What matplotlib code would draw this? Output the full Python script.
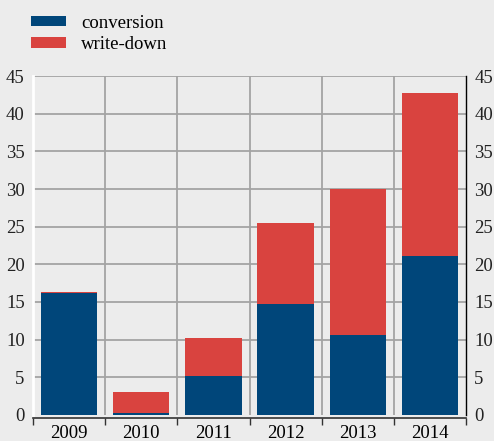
import numpy as np
import matplotlib
matplotlib.use("Agg")
import matplotlib.pyplot as plt

years = ["2009", "2010", "2011", "2012", "2013", "2014"]
conversion = [16.15, 0.25, 5.2, 14.7, 10.55, 21.1]
write_down = [0.15, 2.8, 4.95, 10.8, 19.5, 21.7]

blue = "#00467a"
red = "#d9433f"
bg = "#ececec"
grid_col = "#a3a3a3"

plt.rcParams["font.family"] = ["Liberation Serif", "DejaVu Serif"]
plt.rcParams["font.size"] = 13.5

fig = plt.figure(figsize=(4.94, 4.41), dpi=100, facecolor=bg)
ax = fig.add_axes([33 / 494, (441 - 414.7) / 441, (466 - 33) / 494, (414.7 - 76.3) / 441])
ax.set_facecolor(bg)

x = np.arange(len(years))
ax.bar(x, conversion, width=0.78, color=blue, label="conversion", zorder=3)
ax.bar(x, write_down, width=0.78, bottom=conversion, color=red, label="write-down", zorder=3)

ax.set_xlim(-0.5, len(years) - 0.5)
ax.set_ylim(0, 45)
ax.set_yticks(np.arange(0, 46, 5))

# grid
ax.set_xticks(x)
ax.set_xticklabels(years)
ax.set_xticks(np.arange(-0.5, len(years)), minor=True)
for b in np.arange(0.5, len(years) - 1):
    ax.axvline(b, color=grid_col, lw=1.3, zorder=1)
for v in np.arange(5, 46, 5):
    ax.axhline(v, color=grid_col, lw=1.3, zorder=1)

ax.tick_params(axis="x", which="major", length=0, pad=5)
ax.tick_params(axis="x", which="minor", length=5, width=1, color="#333333", direction="out")
ax.tick_params(axis="y", length=0, labelleft=True, labelright=True, pad=6)
for lab in ax.get_yticklabels():
    lab.set_color("#222222")

ax.spines["top"].set_visible(False)
ax.spines["left"].set_color("white")
ax.spines["left"].set_linewidth(2)
ax.spines["right"].set_color("black")
ax.spines["right"].set_linewidth(1)
ax.spines["bottom"].set_position(("outward", 2.5))
ax.spines["bottom"].set_color("#333333")
ax.spines["bottom"].set_linewidth(1.2)

leg = fig.legend(loc="upper left", bbox_to_anchor=(0.029, 1.005), frameon=False,
                 handlelength=1.85, handleheight=0.5, handletextpad=0.8,
                 labelspacing=0.25, fontsize=13.5)

fig.savefig("out.png", dpi=100, facecolor=bg)
